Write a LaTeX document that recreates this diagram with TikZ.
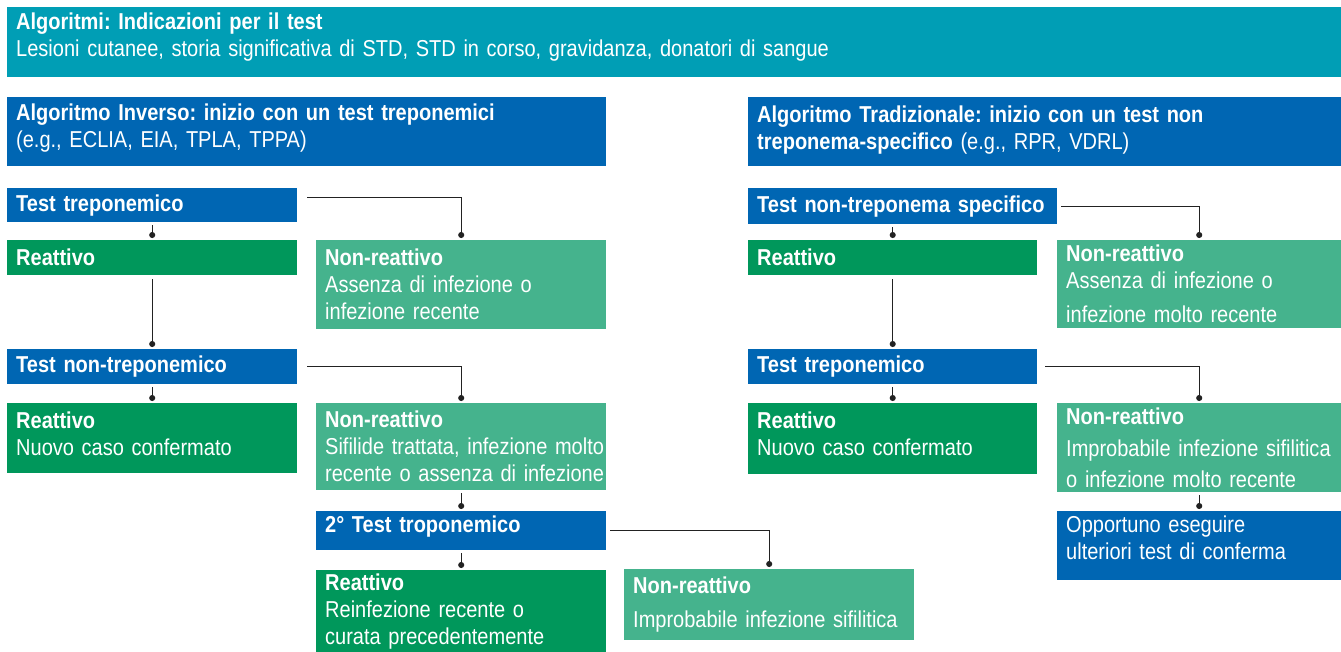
\documentclass[tikz,border=0pt]{standalone}
\usepackage{fontspec}
\setmainfont{Liberation Sans}[FakeStretch=0.87]
\usetikzlibrary{arrows.meta}
\frenchspacing

\definecolor{headteal}{HTML}{009EB5}
\definecolor{testblue}{HTML}{0066B3}
\definecolor{posgreen}{HTML}{00975B}
\definecolor{neggreen}{HTML}{45B38D}
\definecolor{linegray}{HTML}{222222}

\tikzset{
  box/.style={rectangle, anchor=north west, inner xsep=9pt, inner ysep=0pt,
    text=white, align=left, font=\fontsize{23}{27}\selectfont},
  dims/.style 2 args={text width=#1, minimum height=#2},
  headbox/.style={box, fill=headteal},
  testbox/.style={box, fill=testblue},
  posbox/.style={box, fill=posgreen},
  negbox/.style={box, fill=neggreen},
  link/.style={draw=linegray, line width=1.3pt, -{Circle[length=6pt]}},
}

\begin{document}
\begin{tikzpicture}[x=1pt,y=-1pt]
\useasboundingbox (0,0) rectangle (1341,652);

% headers
\node[headbox, dims={1316pt}{70pt}, text depth=42pt] (top) at (7,7)
  {\textbf{Algoritmi: Indicazioni per il test}\\
   Lesioni cutanee, storia significativa di STD, STD in corso, gravidanza, donatori di sangue};
\node[testbox, dims={581pt}{69pt}, text depth=40pt] (inv) at (7,97)
  {\textbf{Algoritmo Inverso: inizio con un test treponemici}\\
   (e.g., ECLIA, EIA, TPLA, TPPA)};
\node[testbox, dims={575pt}{69pt}, text depth=36pt] (trad) at (748,97)
  {\textbf{Algoritmo Tradizionale: inizio con un test non}\\
   \textbf{treponema-specifico} (e.g., RPR, VDRL)};

% reverse algorithm
\node[testbox, dims={272pt}{34pt}] (ltt) at (7,188) {\textbf{Test treponemico}};
\node[posbox, dims={272pt}{35pt}] (lre1) at (7,240) {\textbf{Reattivo}};
\node[negbox, dims={272pt}{89pt}] (lnr1) at (316,240)
  {\textbf{Non-reattivo}\\Assenza di infezione o\\infezione recente};
\node[testbox, dims={272pt}{35pt}] (ltn) at (7,349) {\textbf{Test non-treponemico}};
\node[posbox, dims={272pt}{70pt}, text depth=37pt] (lre2) at (7,403)
  {\textbf{Reattivo}\\Nuovo caso confermato};
\node[negbox, dims={272pt}{87pt}] (lnr2) at (316,403)
  {\textbf{Non-reattivo}\\\mbox{Sifilide trattata, infezione molto}\\\mbox{recente o assenza di infezione}};
\node[testbox, dims={272pt}{39pt}, text depth=14pt] (ltt2) at (316,511) {\textbf{2° Test troponemico}};
\node[posbox, dims={272pt}{82pt}] (lre3) at (316,570)
  {\textbf{Reattivo}\\Reinfezione recente o\\curata precedentemente};
\node[negbox, dims={272pt}{71pt}] (lnr3) at (624,569)
  {\textbf{Non-reattivo}\\[7pt]\mbox{Improbabile infezione sifilitica}};

% traditional algorithm
\node[testbox, dims={291pt}{36pt}] (rtn) at (748,188)
  {\mbox{\textbf{Test non-treponema specifico}}};
\node[posbox, dims={271pt}{35pt}] (rre1) at (748,240) {\textbf{Reattivo}};
\node[negbox, dims={266pt}{88pt}] (rnr1) at (1057,240)
  {\textbf{Non-reattivo}\\Assenza di infezione o\\[7pt]infezione molto recente};
\node[testbox, dims={271pt}{35pt}] (rtt) at (748,349) {\textbf{Test treponemico}};
\node[posbox, dims={271pt}{71pt}, text depth=37pt] (rre2) at (748,403)
  {\textbf{Reattivo}\\Nuovo caso confermato};
\node[negbox, dims={266pt}{89pt}] (rnr2) at (1057,403)
  {\textbf{Non-reattivo}\\[5pt]\mbox{Improbabile infezione sifilitica}\\[4pt]o infezione molto recente};
\node[testbox, dims={266pt}{69pt}, text depth=43pt] (rop) at (1057,511)
  {Opportuno eseguire\\ulteriori test di conferma};

% connectors, left
\draw[link] ([yshift=-3pt]ltt.south) -- ([yshift=2pt]lre1.north);
\draw[link] ([xshift=10pt,yshift=8pt]ltt.east) -| ([yshift=2pt]lnr1.north);
\draw[link] ([yshift=-4pt]lre1.south) -- ([yshift=2pt]ltn.north);
\draw[link] ([yshift=-3pt]ltn.south) -- ([yshift=2pt]lre2.north);
\draw[link] ([xshift=10pt]ltn.east) -| ([yshift=2pt]lnr2.north);
\draw[link] ([yshift=-3pt]lnr2.south) -- ([yshift=2pt]ltt2.north);
\draw[link] ([yshift=-3pt]ltt2.south) -- ([yshift=2pt]lre3.north);
\draw[link] ([xshift=4pt]ltt2.east) -| ([yshift=2pt]lnr3.north);

% connectors, right
\draw[link] ([yshift=-3pt]rtn.south -| rre1.north) -- ([yshift=2pt]rre1.north);
\draw[link] ([xshift=4pt]rtn.east) -| ([yshift=2pt]rnr1.north);
\draw[link] ([yshift=-4pt]rre1.south) -- ([yshift=2pt]rtt.north);
\draw[link] ([yshift=-3pt]rtt.south) -- ([yshift=2pt]rre2.north);
\draw[link] ([xshift=8pt]rtt.east) -| ([yshift=2pt]rnr2.north);
\draw[link] ([yshift=-3pt]rnr2.south) -- ([yshift=2pt]rop.north);
\end{tikzpicture}
\end{document}
